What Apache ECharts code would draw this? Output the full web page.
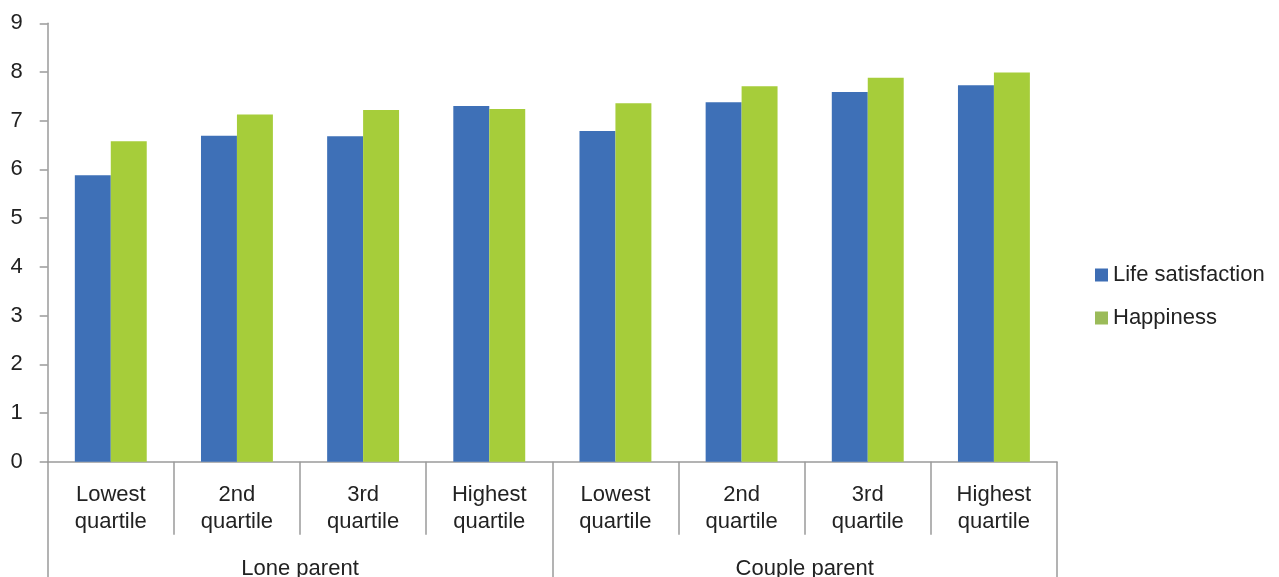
<!DOCTYPE html>
<html>
<head>
<meta charset="utf-8">
<script src="https://cdn.jsdelivr.net/npm/echarts@6/dist/echarts.min.js"></script>
<style>html,body{margin:0;padding:0;background:#fff}#c{width:1279px;height:577px}</style>
</head>
<body>
<div id="c"></div>
<script>
const categories = ['Lowest\nquartile','2nd\nquartile','3rd\nquartile','Highest\nquartile','Lowest\nquartile','2nd\nquartile','3rd\nquartile','Highest\nquartile'];
const groups = ['Lone parent','Couple parent'];
const lifeSatisfaction = [5.88, 6.69, 6.68, 7.30, 6.79, 7.38, 7.59, 7.73];
const happiness = [6.58, 7.13, 7.22, 7.24, 7.36, 7.71, 7.88, 7.99];
const yTicks = [0,1,2,3,4,5,6,7,8,9];

const font = "'Liberation Sans', Arial, sans-serif";
const axisColor = '#9a9a9a';
const textColor = '#222';
const chart = echarts.init(document.getElementById('c'), null, {renderer:'canvas'});
chart.setOption({
  animation: false,
  textStyle: {fontFamily: font},
  grid: {left: 47.7, right: 222, top: 23.3, bottom: 115.3, containLabel: false, outerBoundsMode: 'none'},
  legend: {
    orient: 'vertical', left: 1095, top: 262, padding: 0, itemWidth: 13, itemHeight: 13, itemGap: 17,
    icon: 'rect',
    textStyle: {fontSize: 22, color: textColor, fontFamily: font, lineHeight: 26},
    data: [
      {name: 'Life satisfaction', itemStyle: {color: '#3d6db4'}},
      {name: 'Happiness', itemStyle: {color: '#9bbb59'}}
    ]
  },
  xAxis: [
    {
      type: 'category', data: categories, position: 'bottom',
      axisLine: {lineStyle: {color: axisColor, width: 1.5}},
      axisTick: {show: true, interval: 0, length: 73, lineStyle: {color: axisColor, width: 1.5}},
      axisLabel: {interval: 0, fontSize: 22, color: textColor, lineHeight: 27, margin: 20, fontFamily: font}
    },
    {
      type: 'category', data: groups, position: 'bottom',
      axisLine: {show: false},
      axisTick: {show: true, interval: 0, length: 116, lineStyle: {color: axisColor, width: 1.5}},
      axisLabel: {interval: 0, fontSize: 22, color: textColor, lineHeight: 26, margin: 94, fontFamily: font}
    }
  ],
  yAxis: {
    type: 'value', min: 0, max: 9, interval: 1,
    splitLine: {show: false},
    axisLine: {show: true, lineStyle: {color: axisColor, width: 1.5}},
    axisTick: {show: true, length: 8, lineStyle: {color: axisColor, width: 1.5}},
    axisLabel: {fontSize: 22, color: textColor, margin: 25, fontFamily: font,
      formatter: v => yTicks.includes(v) ? String(v) : ''}
  },
  series: [
    {name: 'Life satisfaction', type: 'bar', data: lifeSatisfaction, xAxisIndex: 0,
      barGap: '0%', barCategoryGap: '43%', itemStyle: {color: '#3e70b7'}},
    {name: 'Happiness', type: 'bar', data: happiness, xAxisIndex: 0,
      barGap: '0%', barCategoryGap: '43%', itemStyle: {color: '#a6cd3a'}}
  ]
});
</script>
</body>
</html>
